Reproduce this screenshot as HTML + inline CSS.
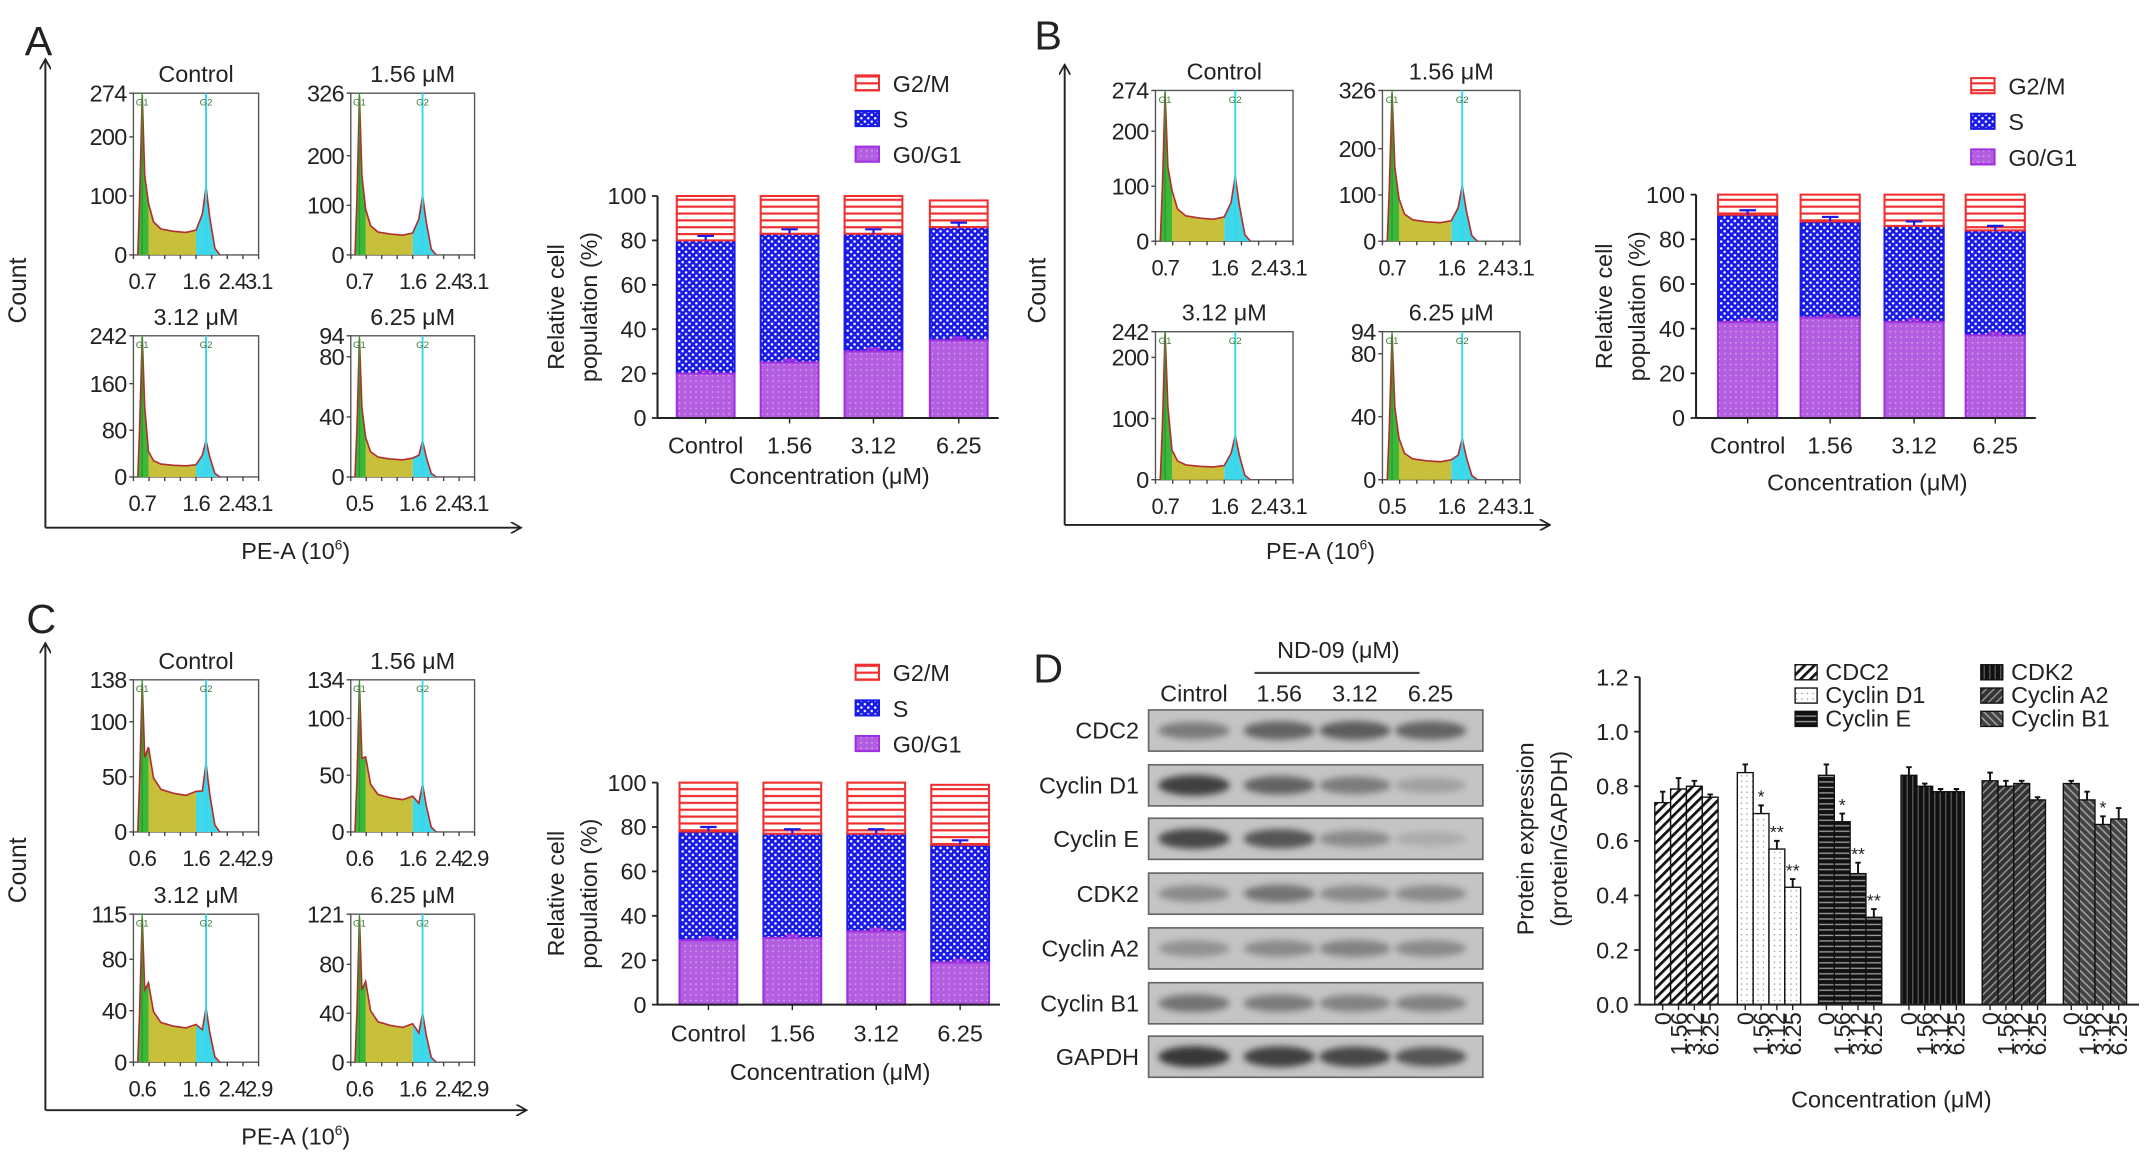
<!DOCTYPE html>
<html><head><meta charset="utf-8"><style>
html,body{margin:0;padding:0;background:#fff}
svg{display:block;font-family:"Liberation Sans",Arial,sans-serif}
</style></head><body>
<svg id="fig" xmlns="http://www.w3.org/2000/svg" width="2150" height="1165" viewBox="0 0 1563 850" preserveAspectRatio="none">
<defs>
<pattern id="pG2" width="6" height="5" patternUnits="userSpaceOnUse"><rect width="6" height="5" fill="#fff"/><rect y="0" width="6" height="1.6" fill="#f03030"/></pattern>
<pattern id="pS" width="5" height="5" patternUnits="userSpaceOnUse"><rect width="5" height="5" fill="#1a1ae8"/><circle cx="1.25" cy="1.25" r="0.9" fill="#fff"/><circle cx="3.75" cy="3.75" r="0.9" fill="#fff"/></pattern>
<pattern id="pG1" width="4" height="4" patternUnits="userSpaceOnUse"><rect width="4" height="4" fill="#b35de0"/><circle cx="2" cy="2" r="0.6" fill="#d9a6f0"/></pattern>
<pattern id="d0" width="5" height="5" patternUnits="userSpaceOnUse" patternTransform="rotate(45)"><rect width="5" height="5" fill="#fff"/><rect width="2" height="5" fill="#111"/></pattern>
<pattern id="d1" width="4" height="4" patternUnits="userSpaceOnUse"><rect width="4" height="4" fill="#fff"/><circle cx="2" cy="2" r="0.5" fill="#888"/></pattern>
<pattern id="d2" width="4" height="4" patternUnits="userSpaceOnUse"><rect width="4" height="4" fill="#111"/><rect y="2" width="4" height="1" fill="#999"/></pattern>
<pattern id="d3" width="4" height="4" patternUnits="userSpaceOnUse"><rect width="4" height="4" fill="#111"/><rect x="2" width="1" height="4" fill="#555"/></pattern>
<pattern id="d4" width="4" height="4" patternUnits="userSpaceOnUse" patternTransform="rotate(45)"><rect width="4" height="4" fill="#333"/><rect width="1" height="4" fill="#999"/></pattern>
<pattern id="d5" width="4" height="4" patternUnits="userSpaceOnUse" patternTransform="rotate(-45)"><rect width="4" height="4" fill="#444"/><rect width="1" height="4" fill="#aaa"/></pattern>
<filter id="blur" x="-20%" y="-50%" width="140%" height="200%"><feGaussianBlur stdDeviation="2.5"/></filter>
<marker id="arr" viewBox="0 0 10 10" refX="8" refY="5" markerWidth="6" markerHeight="6" orient="auto"><path d="M0,0L9,5L0,10" fill="none" stroke="#222" stroke-width="1.5"/></marker>
</defs>
<g id="root"></g>
</svg>
<script>
// ---- stacked bar data (percent, cumulative tops) ----
const stackCats = ["Control","1.56","3.12","6.25"];
const aG1 = [20,25,30,35], aS = [80,83,83,86], aG2 = [100,100,100,98];
const bG1 = [43,45,43,37], bS = [91,88,86,84], bG2 = [100,100,100,100];
const cG1 = [29,30,33,19], cS = [78,77,77,72], cG2 = [100,100,100,99];
const stackTicks = [0,20,40,60,80,100];
// ---- histogram data ----
const histTitles = ["Control","1.56 μM","3.12 μM","6.25 μM"];
const aYTicks = [[274,200,100,0],[326,200,100,0],[242,160,80,0],[94,80,40,0]];
const bYTicks = [[274,200,100,0],[326,200,100,0],[242,200,100,0],[94,80,40,0]];
const cYTicks = [[138,100,50,0],[134,100,50,0],[115,80,40,0],[121,80,40,0]];
const aG1Peak = [270,320,240,92], aG2Peak = [115,120,62,24], aSLevel = [40,42,20,12];
const bG1Peak = [270,320,240,92], bG2Peak = [118,120,72,26], bSLevel = [42,42,22,12];
const cG1Peak = [135,130,112,118], cG2Peak = [62,42,42,40], cSLevel = [35,30,28,30];
const abXLabels = ["0.7","1.6","2.4","3.1"], abXLabels4 = ["0.5","1.6","2.4","3.1"], cXLabels = ["0.6","1.6","2.4","2.9"];
// ---- protein expression ----
const protGroups = ["CDC2","Cyclin D1","Cyclin E","CDK2","Cyclin A2","Cyclin B1"];
const protConc = ["0","1.56","3.12","6.25"];
const cdc2 = [0.74,0.79,0.80,0.76];
const cycD1 = [0.85,0.70,0.57,0.43];
const cycE = [0.84,0.67,0.48,0.32];
const cdk2 = [0.84,0.80,0.78,0.78];
const cycA2 = [0.82,0.80,0.81,0.75];
const cycB1 = [0.81,0.75,0.66,0.68];
const protErr = [[0.04,0.04,0.02,0.01],[0.03,0.03,0.03,0.03],[0.04,0.03,0.04,0.03],[0.03,0.01,0.01,0.01],[0.03,0.02,0.01,0.01],[0.01,0.03,0.03,0.04]];
const protStars = [["","","",""],["","*","**","**"],["","*","**","**"],["","","",""],["","","",""],["","","*",""]];
const protTicks = [0,0.2,0.4,0.6,0.8,1.0,1.2];
const blotRows = ["CDC2","Cyclin D1","Cyclin E","CDK2","Cyclin A2","Cyclin B1","GAPDH"];
const blotInt = [[0.45,0.6,0.65,0.6],[0.85,0.6,0.45,0.2],[0.8,0.7,0.35,0.12],[0.35,0.5,0.35,0.35],[0.3,0.35,0.4,0.35],[0.5,0.45,0.4,0.4],[0.9,0.85,0.8,0.7]];

const NS="http://www.w3.org/2000/svg";
const root=document.getElementById('root');
function el(tag,attrs,parent,name){const e=document.createElementNS(NS,tag);for(const k in attrs)e.setAttribute(k,attrs[k]);


(parent||root).appendChild(e);return e;}
function txt(s,x,y,size,anchor,parent,name,extra){const t=el('text',Object.assign({x:x,y:y,'font-size':size,'text-anchor':anchor||'middle',fill:'#222'},extra||{}),parent,name);t.textContent=s;return t;}

// panel letters
txt("A",28,40,30,'middle',null,'panel-label-a');
txt("B",762,36,30,'middle',null,'panel-label-b');
txt("C",30,462,30,'middle',null,'panel-label-c');
txt("D",762,498,30,'middle',null,'panel-label-d');

function hist(g,x0,y0,x1,y1,title,yt,g1p,g2p,sl,xl,name){
  const w=x1-x0,h=y1-y0,max=yt[0];
  const Y=v=>y1-v/max*h, X=f=>x0+f*w;
  txt(title,(x0+x1)/2,y0-8,17,'middle',g,name+'-title');
  el('rect',{x:x0,y:y0,width:w,height:h,fill:'#fff',stroke:'#555','stroke-width':1},g,name+'-box');
  const pts=[[0.035,0],[0.05,g1p*0.35],[0.07,g1p],[0.09,g1p*0.5],[0.12,sl*2.2],[0.16,sl*1.4],[0.22,sl*1.1],[0.32,sl],[0.42,sl*0.95],[0.5,sl*1.05],[0.55,g2p*0.6],[0.58,g2p],[0.61,g2p*0.55],[0.65,g2p*0.1],[0.69,0]];
  const path=pts.map((p,i)=>(i?'L':'M')+X(p[0]).toFixed(1)+','+Y(p[1]).toFixed(1)).join('');
  const sub=(a,b)=>{const s=pts.filter(p=>p[0]>=a&&p[0]<=b);return 'M'+X(a)+','+y1+s.map(p=>'L'+X(p[0])+','+Y(p[1])).join('')+'L'+X(b)+','+y1+'Z';};
  el('path',{d:sub(0.035,0.5),fill:'#c8c03a'},g,name+'-s-fill');
  el('path',{d:sub(0.035,0.12),fill:'#3ab83a'},g,name+'-g1-fill');
  el('path',{d:sub(0.5,0.69),fill:'#40d8e8'},g,name+'-g2-fill');
  el('path',{d:path,fill:'none',stroke:'#b03030','stroke-width':1.2},g,name+'-curve');
  el('line',{x1:X(0.07),x2:X(0.07),y1:y0,y2:y1,stroke:'#2a9a2a','stroke-width':1},g,name+'-g1-line');
  el('line',{x1:X(0.58),x2:X(0.58),y1:y0,y2:y1,stroke:'#30d8f0','stroke-width':1.4},g,name+'-g2-line');
  txt("G1",X(0.07),y0+9,7,'middle',g,name+'-g1-label',{fill:'#3a7a3a'});
  txt("G2",X(0.58),y0+9,7,'middle',g,name+'-g2-label',{fill:'#3a7a3a'});
  yt.forEach(v=>{txt(String(v),x0-5,Y(v)+6,17,'end',g,name+'-ytick',{'letter-spacing':'-0.5'});el('line',{x1:x0-3,x2:x0,y1:Y(v),y2:Y(v),stroke:'#444'},g,name+'-ytick-mark');});
  const xf=[0.07,0.5,0.79,1.0];
  xl.forEach((s,i)=>{txt(s,X(xf[i]),y1+25,16,'middle',g,name+'-xtick',{'letter-spacing':'-0.8'});});
  for(let i=0;i<=8;i++)el('line',{x1:X(i/8),x2:X(i/8),y1:y1,y2:y1+3,stroke:'#444'},g,name+'-xtick-mark');
}
function histPanel(ox,oy,boxes,yts,g1s,g2s,sls,xls,tag){
  const g=el('g',{},root,'histograms-'+tag);
  boxes.forEach((b,i)=>hist(g,b[0]+ox,b[1]+oy,b[2]+ox,b[3]+oy,histTitles[i],yts[i],g1s[i],g2s[i],sls[i],xls[i],'hist-'+tag+'-'+i));
}
const boxA=[[97,68,188,186],[255,68,345,186],[97,245,188,348],[255,245,345,348]];
histPanel(0,0,boxA,aYTicks,aG1Peak,aG2Peak,aSLevel,[abXLabels,abXLabels,abXLabels,abXLabels4],'a');
const boxB=[[840,66,940,176],[1005,66,1105,176],[840,242,940,350],[1005,242,1105,350]];
histPanel(0,0,boxB,bYTicks,bG1Peak,bG2Peak,bSLevel,[abXLabels,abXLabels,abXLabels,abXLabels4],'b');
const boxC=[[97,496,188,607],[255,496,345,607],[97,667,188,775],[255,667,345,775]];
histPanel(0,0,boxC,cYTicks,cG1Peak,cG2Peak,cSLevel,[cXLabels,cXLabels,cXLabels,cXLabels],'c');

function axesFrame(vx,ytop,hy,xr,countY,peX,peY,tag){
  el('line',{x1:vx,y1:hy,x2:vx,y2:ytop,stroke:'#222','stroke-width':1.4,'marker-end':'url(#arr)'},root,'count-axis-'+tag);
  el('line',{x1:vx,y1:hy,x2:xr,y2:hy,stroke:'#222','stroke-width':1.4,'marker-end':'url(#arr)'},root,'pe-axis-'+tag);
  txt("Count",vx-14,countY,18,'middle',root,'count-label-'+tag,{transform:`rotate(-90 ${vx-14} ${countY})`});
  const t=txt("PE-A (10",peX,peY,17,'middle',root,'pe-label-'+tag);
  const s=document.createElementNS(NS,'tspan');s.setAttribute('font-size','10');s.setAttribute('dy','-7');s.textContent='6';
  
  
  t.appendChild(s);
  const s2=document.createElementNS(NS,'tspan');s2.setAttribute('dy','7');s2.textContent=')';
  
  
  t.appendChild(s2);
}
axesFrame(33,44,385,378,212,215,408,'a');
axesFrame(774,48,383,1126,212,960,408,'b');
axesFrame(33,470,810,382,635,215,835,'c');

function stack(ax,y0,y100,barX,bw,g1,s,g2,legX,legY,labY,concY,titleX,tag){
  const g=el('g',{},root,'stacked-chart-'+tag);
  const Y=v=>y0-(v/100)*(y0-y100);
  stackTicks.forEach(v=>{txt(String(v),ax-8,Y(v)+6,17,'end',g,'stack-ytick');el('line',{x1:ax-4,x2:ax,y1:Y(v),y2:Y(v),stroke:'#222','stroke-width':1.3},g,'stack-ytick-mark');});
  stackCats.forEach((c,i)=>{
    const x=barX[i];
    el('rect',{x:x,y:Y(s[i]),width:bw,height:Y(g1[i])-Y(s[i]),fill:'url(#pS)',stroke:'#1a1ae8','stroke-width':1.5},g,'bar-s-'+i);
    el('rect',{x:x,y:Y(g2[i]),width:bw,height:Y(s[i])-Y(g2[i]),fill:'url(#pG2)',stroke:'#f03030','stroke-width':1.5},g,'bar-g2m-'+i);
    el('rect',{x:x,y:Y(g1[i]),width:bw,height:Y(0)-Y(g1[i]),fill:'url(#pG1)',stroke:'#a030e0','stroke-width':1.5},g,'bar-g0g1-'+i);
    const cx=x+bw/2;
    el('path',{d:`M${cx},${Y(s[i])}V${Y(s[i]+2)}M${cx-6},${Y(s[i]+2)}H${cx+6}`,stroke:'#1a1ae8','stroke-width':1.6},g,'error-s-'+i);
    el('path',{d:`M${cx},${Y(g1[i])}V${Y(g1[i]+1.2)}M${cx-5},${Y(g1[i]+1.2)}H${cx+5}`,stroke:'#a030e0','stroke-width':1.6},g,'error-g1-'+i);
    txt(c,cx,labY,17,'middle',g,'stack-xtick');
    el('line',{x1:cx,x2:cx,y1:y0,y2:y0+4,stroke:'#222'},g,'stack-xtick-mark');
  });
  el('line',{x1:ax,y1:y100,x2:ax,y2:y0,stroke:'#222','stroke-width':1.5},g,'stack-y-axis');
  el('line',{x1:ax,y1:y0,x2:barX[3]+bw+8,y2:y0,stroke:'#222','stroke-width':1.5},g,'stack-x-axis');
  txt("Concentration (μM)",(ax+barX[3]+bw)/2+5,concY,17,'middle',g,'stack-x-title');
  const ym=(y0+y100)/2;
  txt("Relative cell",titleX,ym,17,'middle',g,'stack-y-title',{transform:`rotate(-90 ${titleX} ${ym})`});
  txt("population (%)",titleX+24,ym,17,'middle',g,'stack-y-title-2',{transform:`rotate(-90 ${titleX+24} ${ym})`});
  [['G2/M','url(#pG2)','#f03030'],['S','url(#pS)','#1a1ae8'],['G0/G1','url(#pG1)','#a030e0']].forEach((L,i)=>{
    el('rect',{x:legX,y:legY+i*26-7,width:17,height:11,fill:L[1],stroke:L[2],'stroke-width':1.5},g,'legend-swatch');
    txt(L[0],legX+27,legY+i*26+5,17,'start',g,'legend-entry');
  });
}
stack(478,305,143,[492,553,614,676],42,aG1,aS,aG2,622,62,331,353,410,'a');
stack(1233,305,142,[1249,1309,1370,1429],43,bG1,bS,bG2,1433,64,331,358,1172,'b');
stack(478,733,571,[494,555,616,677],42,cG1,cS,cG2,622,492,760,788,410,'c');

// ---- western blot ----
const wb=el('g',{},root,'western-blot');
txt("ND-09 (μM)",973,480,17,'middle',wb,'blot-treatment-label');
el('line',{x1:912,x2:1032,y1:491,y2:491,stroke:'#444','stroke-width':1.5},wb,'blot-bracket');
["Cintrol","1.56","3.12","6.25"].forEach((s,i)=>txt(s,[868,930,985,1040][i],512,17,'middle',wb,'blot-lane-label'));
const rowY=[518,558,597,637,677,717,756];
blotRows.forEach((r,j)=>{
  const y=rowY[j],h=30;
  txt(r,828,y+h/2+6,17,'end',wb,'blot-row-label');
  el('rect',{x:835,y:y,width:243,height:h,fill:'#c4c4c4',stroke:'#666','stroke-width':1.2},wb,'blot-strip');
  blotInt[j].forEach((v,i)=>{
    const c=Math.round(190-v*150);
    el('ellipse',{cx:[868,930,985,1040][i],cy:y+h/2,rx:26,ry:5+v*3,fill:`rgb(${c},${c},${c})`,filter:'url(#blur)'},wb,'blot-band');
  });
});

// ---- protein expression chart ----
const pc=el('g',{},root,'protein-chart');
const pax=1192,py0=733,py1=494;
const PY=v=>py0-v/1.2*(py0-py1);
protTicks.forEach(v=>{txt(v.toFixed(1),pax-8,PY(v)+6,17,'end',pc,'protein-ytick');el('line',{x1:pax-4,x2:pax,y1:PY(v),y2:PY(v),stroke:'#222','stroke-width':1.3},pc,'protein-ytick-mark');});
const protSeries=[cdc2,cycD1,cycE,cdk2,cycA2,cycB1];
const groupX=[1203,1263,1322,1382,1441,1500];
const bw=11.5;
protSeries.forEach((ser,gi)=>{
  ser.forEach((v,i)=>{
    const x=groupX[gi]+i*bw, cx=x+bw/2, e=protErr[gi][i];
    el('rect',{x:x,y:PY(v),width:bw,height:py0-PY(v),fill:`url(#d${gi})`,stroke:'#111','stroke-width':1},pc,'bar-'+protGroups[gi].toLowerCase().replace(' ','-')+'-'+i);
    el('path',{d:`M${cx},${PY(v)}V${PY(v+e)}M${cx-2},${PY(v+e)}H${cx+2}`,stroke:'#111','stroke-width':1.4},pc,'error-bar');
    if(protStars[gi][i])txt(protStars[gi][i],cx,PY(v+e)-2,13,'middle',pc,'significance-star');
    const lx=cx+6,ly=py0+6;
    txt(protConc[i],lx,ly,17,'end',pc,'protein-xtick',{transform:`rotate(-90 ${lx} ${ly})`,'letter-spacing':'-0.5'});
    el('line',{x1:cx,x2:cx,y1:py0,y2:py0+4,stroke:'#222'},pc,'protein-xtick-mark');
  });
});
el('line',{x1:pax,y1:py1,x2:pax,y2:py0,stroke:'#222','stroke-width':1.5},pc,'protein-y-axis');
el('line',{x1:pax,y1:py0,x2:1555,y2:py0,stroke:'#222','stroke-width':1.5},pc,'protein-x-axis');
txt("Concentration (μM)",1375,808,17,'middle',pc,'protein-x-title');
txt("Protein expression",1115,612,17,'middle',pc,'protein-y-title',{transform:'rotate(-90 1115 612)'});
txt("(protein/GAPDH)",1139,612,17,'middle',pc,'protein-y-title-2',{transform:'rotate(-90 1139 612)'});
protGroups.forEach((n,i)=>{
  const lx=i<3?1305:1440, ly=491+(i%3)*17;
  el('rect',{x:lx,y:ly-6,width:16,height:11,fill:`url(#d${i})`,stroke:'#111','stroke-width':1},pc,'protein-legend-swatch');
  txt(n,lx+22,ly+5,17,'start',pc,'protein-legend-entry');
});
</script>
</body></html>
